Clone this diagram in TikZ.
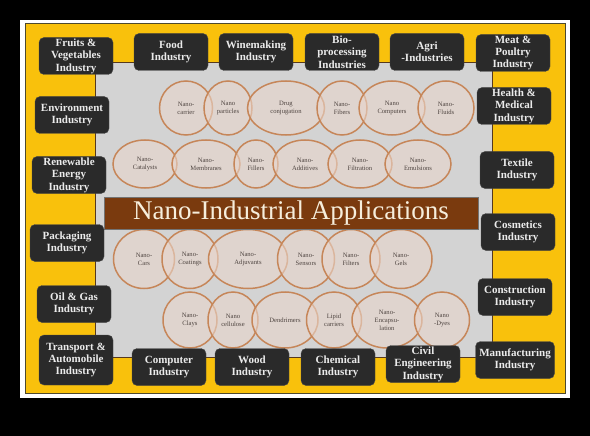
\documentclass[tikz,border=0pt]{standalone}
\usepackage{fontspec}
\setmainfont{Liberation Serif}
\usetikzlibrary{shapes.geometric}

\definecolor{panelyellow}{HTML}{F9C10C}
\definecolor{panelgrey}{HTML}{D3D3D3}
\definecolor{titlebrown}{HTML}{7A3A0E}
\definecolor{titletext}{HTML}{F6EEDC}
\definecolor{boxblack}{HTML}{2A2A2A}
\definecolor{ringtan}{HTML}{C68659}
\definecolor{ringfill}{HTML}{E8D5CB}
\definecolor{ringtext}{HTML}{4E4440}

\begin{document}
\begin{tikzpicture}[x=1pt, y=-1pt,
	industry/.style={fill=boxblack, draw=black!70, rounded corners=5pt, minimum width=74pt, minimum height=37pt, inner sep=1pt, align=center, text=white!92!black, font=\bfseries\fontsize{11}{12.4}\selectfont},
	app/.style={ellipse, draw=ringtan, line width=1.5pt, fill=ringfill, fill opacity=0.6, text opacity=1, inner sep=0pt, align=center, text=ringtext, font=\fontsize{6.6}{8}\selectfont}]
	% frame and panels
	\fill[black] (0,0) rectangle (590,436);
	\fill[white] (20,20) rectangle (570,398);
	\draw[fill=panelyellow, draw=olive!40!black] (25,23) rectangle (565,393);
	\draw[fill=panelgrey, draw=brown!45!black] (95,62) rectangle (492,357);
	% applications, upper rows
	\node[app, minimum width=53pt, minimum height=54pt] (carrier) at (186,108) {Nano-\\carrier};
	\node[app, minimum width=48pt, minimum height=54pt] (particles) at (228,108) {Nano\\particles};
	\node[app, minimum width=77pt, minimum height=54pt] (conjugation) at (286,108) {Drug\\conjugation};
	\node[app, minimum width=50pt, minimum height=54pt] (fibers) at (342,108) {Nano-\\Fibers};
	\node[app, minimum width=66pt, minimum height=54pt] (computers) at (392,108) {Nano\\Computers};
	\node[app, minimum width=56pt, minimum height=54pt] (fluids) at (446,108) {Nano-\\Fluids};
	\node[app, minimum width=64pt, minimum height=48pt] (catalysts) at (145,164) {Nano-\\Catalysts};
	\node[app, minimum width=68pt, minimum height=48pt] (membranes) at (206,164) {Nano-\\Membranes};
	\node[app, minimum width=44pt, minimum height=48pt] (fillers) at (256,164) {Nano-\\Fillers};
	\node[app, minimum width=64pt, minimum height=48pt] (additives) at (305,164) {Nano-\\Additives};
	\node[app, minimum width=64pt, minimum height=48pt] (filtration) at (360,164) {Nano-\\Filtration};
	\node[app, minimum width=66pt, minimum height=48pt] (emulsions) at (418,164) {Nano-\\Emulsions};
	% applications, lower rows
	\node[app, minimum width=61pt, minimum height=59pt] (cars) at (144,259) {Nano-\\Cars};
	\node[app, minimum width=56pt, minimum height=59pt] (coatings) at (190,259) {Nano-\\Coatings};
	\node[app, minimum width=79pt, minimum height=59pt] (adjuvants) at (248,259) {Nano-\\Adjuvants};
	\node[app, minimum width=57pt, minimum height=59pt] (sensors) at (306,259) {Nano-\\Sensors};
	\node[app, minimum width=58pt, minimum height=59pt] (filters) at (351,259) {Nano-\\Filters};
	\node[app, minimum width=62pt, minimum height=59pt] (gels) at (401,259) {Nano-\\Gels};
	\node[app, minimum width=54pt, minimum height=56pt] (clays) at (190,320) {Nano-\\Clays};
	\node[app, minimum width=50pt, minimum height=56pt] (cellulose) at (233,320) {Nano\\cellulose};
	\node[app, minimum width=66pt, minimum height=56pt] (dendrimers) at (285,320) {Dendrimers};
	\node[app, minimum width=55pt, minimum height=56pt] (lipid) at (334,320) {Lipid\\carriers};
	\node[app, minimum width=70pt, minimum height=56pt] (encapsulation) at (387,320) {Nano-\\Encapsu-\\lation};
	\node[app, minimum width=55pt, minimum height=56pt] (dyes) at (442,320) {Nano\\-Dyes};
	% title bar
	\node[fill=titlebrown, draw=black!55, minimum width=374pt, minimum height=32pt, inner sep=0pt, text=titletext, font=\fontsize{27}{30}\selectfont] (title) at (291,213) {Nano-Industrial Applications};
	% industries, top row
	\node[industry] (fruits) at (76,56) {Fruits \&\\Vegetables\\Industry};
	\node[industry] (food) at (171,52) {Food\\Industry};
	\node[industry] (winemaking) at (256,52) {Winemaking\\Industry};
	\node[industry] (bioprocessing) at (342,52) {Bio-\\processing\\Industries};
	\node[industry] (agri) at (427,52) {Agri\\-Industries};
	\node[industry] (meat) at (513,53) {Meat \&\\Poultry\\Industry};
	% right column
	\node[industry] (health) at (514,106) {Health \&\\Medical\\Industry};
	\node[industry] (textile) at (517,170) {Textile\\Industry};
	\node[industry] (cosmetics) at (518,232) {Cosmetics\\Industry};
	\node[industry] (construction) at (515,297) {Construction\\Industry};
	\node[industry, minimum width=79pt] (manufacturing) at (515,360) {Manufacturing\\Industry};
	% bottom row
	\node[industry] (civil) at (423,364) {Civil\\Engineering\\Industry};
	\node[industry] (chemical) at (338,367) {Chemical\\Industry};
	\node[industry] (wood) at (252,367) {Wood\\Industry};
	\node[industry] (computer) at (169,367) {Computer\\Industry};
	\node[industry, minimum height=50pt] (transport) at (76,360) {Transport \&\\Automobile\\Industry};
	% left column
	\node[industry] (oil) at (74,304) {Oil \& Gas\\Industry};
	\node[industry] (packaging) at (67,243) {Packaging\\Industry};
	\node[industry] (renewable) at (69,175) {Renewable\\Energy\\Industry};
	\node[industry] (environment) at (72,115) {Environment\\Industry};
\end{tikzpicture}
\end{document}
